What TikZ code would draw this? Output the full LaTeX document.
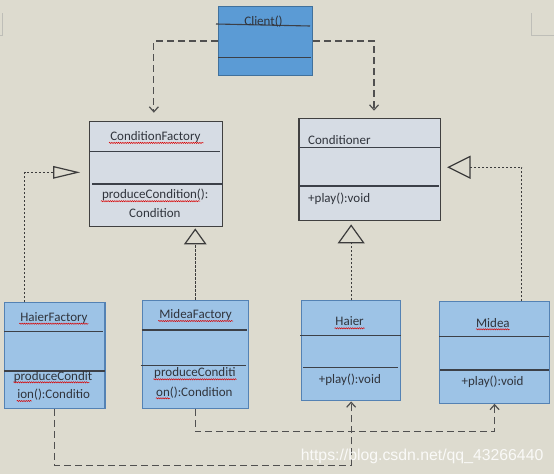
\documentclass[tikz,border=0pt]{standalone}
\usepackage{fontspec}
\setmainfont{Carlito}
\newfontfamily\wmfont{Liberation Sans}
\usetikzlibrary{arrows.meta,decorations.pathmorphing}
\definecolor{bg}{HTML}{DDDBCF}
\definecolor{upfill}{HTML}{D6DCE4}
\definecolor{upline}{HTML}{404040}
\definecolor{lowfill}{HTML}{9DC3E6}
\definecolor{lowline}{HTML}{5482B4}
\definecolor{clfill}{HTML}{5B9BD5}
\definecolor{clline}{HTML}{41719C}
\definecolor{divc}{HTML}{3C4048}
\definecolor{txtc}{HTML}{30343C}
\definecolor{depc}{HTML}{505050}
\definecolor{realc}{HTML}{3C3C3C}
\definecolor{cornerc}{HTML}{BEBEB8}
\begin{document}
\begin{tikzpicture}[x=1pt,y=-1pt,
  upbox/.style={draw=upline, fill=upfill, line width=1.1pt, rectangle, inner sep=0, anchor=north west},
  lowbox/.style={draw=lowline, fill=lowfill, line width=1.1pt, rectangle, inner sep=0, anchor=north west},
  clbox/.style={draw=clline, fill=clfill, line width=1.1pt, rectangle, inner sep=0, anchor=north west},
  txt/.style={inner sep=0, anchor=base, text=txtc, font=\fontsize{13}{15}\selectfont},
  txtl/.style={txt, anchor=base west},
  divline/.style={draw=divc, line width=1.1pt},
  dep/.style={draw=depc, line width=1.2pt, dash pattern=on 7pt off 4pt, -{Straight Barb[length=5pt,width=9pt]}},
  real/.style={draw=realc, line width=1pt, dash pattern=on 2.5pt off 1.5pt},
  sq/.style={draw=red!85!black, line width=0.5pt, decorate, decoration={snake, amplitude=0.6pt, segment length=2.2pt}}
]
\fill[bg] (0,0) rectangle (554,474);
\useasboundingbox (0,0) rectangle (554,474);

% page corner marks
\draw[cornerc, line width=0.8pt] (0,35) -- (2.8,35) -- (2.8,13.3);
\draw[cornerc, line width=0.8pt] (554,35) -- (531.7,35) -- (531.7,13.3);

% boxes
\node[clbox, minimum width=94.2pt, minimum height=69.6pt] (client) at (217.7,5.7) {};
\node[upbox, minimum width=132.8pt, minimum height=105pt] (cf) at (89.2,121.3) {};
\node[upbox, minimum width=141.6pt, minimum height=102pt] (cd) at (298.4,118.3) {};
\node[lowbox, minimum width=100.2pt, minimum height=105.7pt] (hf) at (4.2,302) {};
\node[lowbox, minimum width=106.2pt, minimum height=108pt] (mf) at (141.6,299.7) {};
\node[lowbox, minimum width=98.8pt, minimum height=100pt] (hr) at (301.2,300.3) {};
\node[lowbox, minimum width=109.4pt, minimum height=101.4pt] (md) at (439.3,301.3) {};

% dividers
\draw[divline] (216,24) -- (310,26);
\draw[divline] (218,57.3) -- (311,57.3);
\draw[divline] (90.3,151.7) -- (220.2,151.7);
\draw[divline] (92,184) -- (223,184);
\draw[divline] (298.4,147.3) -- (440,147.3);
\draw[divline] (299,186) -- (438.5,186);
\draw[divline] (4.2,331.5) -- (102.7,331.5);
\draw[divline] (4.2,371) -- (105,371);
\draw[divline] (141.6,330) -- (247,330);
\draw[divline] (140.5,365.7) -- (246.4,365.7);
\draw[divline] (300.2,335.3) -- (401,335.3);
\draw[divline] (303.4,367.7) -- (398.2,367.7);
\draw[divline] (439.3,336.7) -- (548.7,336.7);
\draw[divline] (440.3,370) -- (548.7,370);

% texts
\node[txt] (clt) at (263.5,25.7) {Client()};
\node[txt] (cft) at (155.4,140) {ConditionFactory};
\node[txt] (cfm1) at (155.2,198.8) {produceCondition():};
\node[txt] (cfm2) at (154.9,217) {Condition};
\node[txtl] (cdt) at (308,144) {Conditioner};
\node[txtl] (cdm) at (308,202.5) {+play():void};
\node[txt] (hft) at (54,321) {HaierFactory};
\node[txt] (hfm1) at (53,380) {produceCondit};
\node[txt] (hfm2) at (53.7,398.7) {ion():Conditio};
\node[txt] (mft) at (195.6,318.7) {MideaFactory};
\node[txt] (mfm1) at (194.9,376.7) {produceConditi};
\node[txt] (mfm2) at (194.4,396) {on():Condition};
\node[txt] (hrt) at (349.6,325.3) {Haier};
\node[txt] (hrm) at (349.9,383.3) {+play():void};
\node[txt] (mdt) at (492.9,327.3) {Midea};
\node[txt] (mdm) at (492.5,385.7) {+play():void};

% spell-check squiggles
\draw[sq] (109,142.9) -- (203.5,142.9);
\draw[sq] (100.9,201.2) -- (200,201.2);
\draw[sq] (19.3,323.7) -- (88.3,323.7);
\draw[sq] (13.3,382.3) -- (89.3,382.3);
\draw[sq] (16.7,401) -- (31.7,401);
\draw[sq] (158.2,321) -- (233,321);
\draw[sq] (153.3,379.3) -- (236.5,379.3);
\draw[sq] (155.8,398.3) -- (170,398.3);
\draw[sq] (334.5,328.3) -- (364.6,328.3);
\draw[sq] (476,329.3) -- (509.7,329.3);

% dependencies from Client
\draw[dep, shorten >=8.6pt] (client.west) -| ([xshift=-2.3pt]cf.north);
\draw[dep, shorten >=7.6pt] (client.east) -| ([xshift=4.3pt]cd.north);

% realizations
\draw[real, -{Triangle[open,length=27pt,width=12.5pt,line width=1.2pt]}, shorten >=9pt]
  ([xshift=-30.3pt]hf.north) |- ([yshift=2pt]cf.west);
\draw[real, -{Triangle[open,length=23.4pt,width=23pt,line width=1.2pt]}, shorten >=6pt]
  ([xshift=27.4pt]md.north) |- ([yshift=2.6pt]cd.east);
\draw[real, -{Triangle[open,length=16pt,width=22.6pt,line width=1.2pt]}, shorten >=1pt]
  (mf.north) -- (mf.north |- cf.south);
\draw[real, -{Triangle[open,length=19pt,width=27pt,line width=1.2pt]}, shorten >=3pt]
  (hr.north) -- (hr.north |- cd.south);

% dependencies from factories
\draw[dep] (hf.south) -- ++(0,56.6) -| (hr.south);
\draw[dep] (mf.south) -- ++(0,23) -| (md.south);

% watermark
\node[anchor=base west, inner sep=0, font=\wmfont\fontsize{15.8}{18}\selectfont, text=white, opacity=0.85] (wm) at (300.7,460.5) {https://blog.csdn.net/qq\_43266440};
\end{tikzpicture}
\end{document}
